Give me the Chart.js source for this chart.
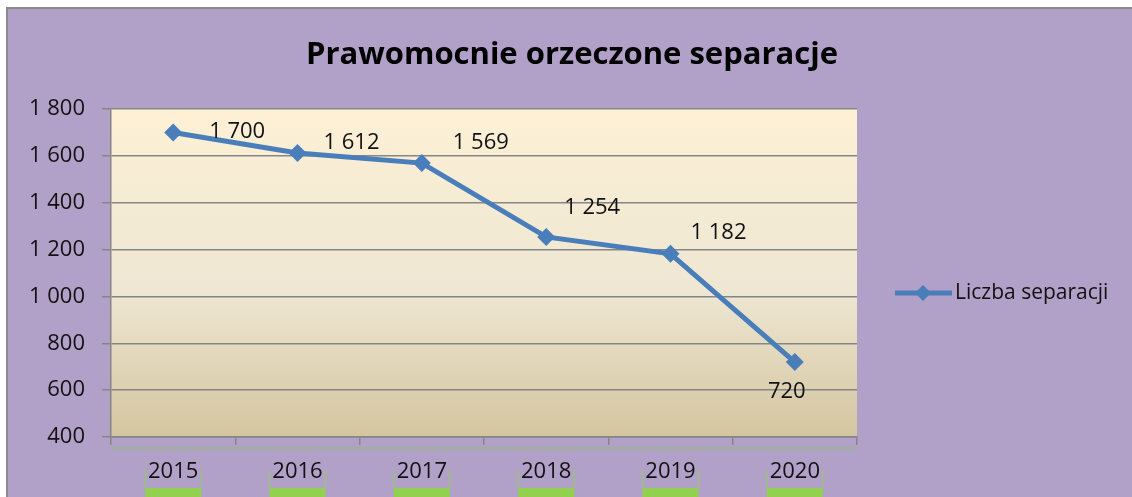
<!DOCTYPE html>
<html><head><meta charset="utf-8">
<script src="https://cdn.jsdelivr.net/npm/chart.js@4"></script>
<style>html,body{margin:0;padding:0;background:#fff;overflow:hidden}#wrap{width:1132px;height:497px;position:relative}</style>
</head><body><div id="wrap"><canvas id="c" width="1132" height="497"></canvas></div>
<script>
const years = ['2015', '2016', '2017', '2018', '2019', '2020'];
const separations = [1700, 1612, 1569, 1254, 1182, 720];
const seriesName = 'Liczba separacji';
const chartTitle = 'Prawomocnie orzeczone separacje';
const yMin = 400, yMax = 1800, yStep = 200;

const fmt = v => { const s = String(v); return s.length > 3 ? s.slice(0, -3) + '\u00a0' + s.slice(-3) : s; };
const FONT = "'Open Sans', 'DejaVu Sans', sans-serif";
const LINE = '#4A7EBB';
const GRID = '#868686';
// label offsets (px) relative to each point, like the hand-placed Excel labels
const labelOffsets = [[64, -1], [54, -10], [59, -20], [46, -29], [48, -21], [-8, 30]];

const decor = {
  id: 'decor',
  beforeDraw(chart) {
    const ctx = chart.ctx, W = chart.width, H = chart.height, a = chart.chartArea;
    ctx.save();
    ctx.fillStyle = '#ffffff'; ctx.fillRect(0, 0, W, H);
    ctx.fillStyle = '#B1A0C7'; ctx.fillRect(7, 8, W - 7, H - 8);
    ctx.fillStyle = '#8C8C8C'; ctx.fillRect(6, 7, W - 6, 2); ctx.fillRect(6, 7, 2, H - 7);
    const g = ctx.createLinearGradient(0, a.top, 0, a.bottom);
    g.addColorStop(0, '#FDF0D5'); g.addColorStop(0.55, '#EEE7D3'); g.addColorStop(1, '#D4C5A0');
    ctx.fillStyle = g; ctx.fillRect(a.left, a.top, a.right - a.left, a.bottom - a.top);
    // faint shadow under axis
    ctx.fillStyle = 'rgba(150,190,120,0.3)';
    ctx.fillRect(a.left, a.bottom + 9, a.right - a.left, 5);
    // green highlight under x labels
    const xs = chart.scales.x;
    xs.ticks.forEach((t, i) => {
      const x = xs.getPixelForTick(i);
      ctx.fillStyle = 'rgba(146,208,80,0.45)';
      ctx.fillRect(x - 29, 470, 2, 18);
      ctx.fillRect(x + 27, 470, 2, 18);
      ctx.fillStyle = '#92D050';
      ctx.fillRect(x - 28, 488, 56, 10);
    });
    // title
    ctx.font = 'bold 31px ' + FONT; ctx.fillStyle = '#000'; ctx.textAlign = 'center'; ctx.textBaseline = 'middle';
    ctx.fillText(chartTitle, 572, 55);
    ctx.restore();
  },
  afterDatasetsDraw(chart) {
    const ctx = chart.ctx, meta = chart.getDatasetMeta(0);
    ctx.save();
    ctx.font = '22px ' + FONT; ctx.fillStyle = '#111'; ctx.textAlign = 'center'; ctx.textBaseline = 'middle';
    meta.data.forEach((p, i) => {
      const o = labelOffsets[i] || [0, -15];
      ctx.fillText(fmt(chart.data.datasets[0].data[i]), p.x + o[0], p.y + o[1]);
    });
    ctx.restore();
  },
  afterDraw(chart) {
    const ctx = chart.ctx;
    ctx.save();
    const y = 293;
    ctx.strokeStyle = LINE; ctx.lineWidth = 5;
    ctx.beginPath(); ctx.moveTo(895, y); ctx.lineTo(952, y); ctx.stroke();
    ctx.fillStyle = LINE; ctx.beginPath();
    ctx.moveTo(923, y - 8); ctx.lineTo(931, y); ctx.lineTo(923, y + 8); ctx.lineTo(915, y); ctx.closePath(); ctx.fill();
    ctx.font = '21px ' + FONT; ctx.fillStyle = '#111'; ctx.textAlign = 'left'; ctx.textBaseline = 'middle';
    ctx.fillText(chart.data.datasets[0].label, 955, y);
    ctx.restore();
  }
};

new Chart(document.getElementById('c'), {
  type: 'line',
  data: {
    labels: years,
    datasets: [{
      label: seriesName,
      data: separations,
      borderColor: LINE,
      backgroundColor: LINE,
      borderWidth: 5,
      pointStyle: 'rectRot',
      pointRadius: 9,
      pointBorderWidth: 0,
      pointBackgroundColor: LINE,
      tension: 0,
      fill: false
    }]
  },
  options: {
    responsive: false,
    animation: false,
    devicePixelRatio: 1,
    layout: { padding: { left: 7, right: 275, top: 109, bottom: 0 } },
    plugins: {
      legend: { display: false },
      tooltip: { enabled: false },
      title: { display: false }
    },
    scales: {
      x: {
        offset: true,
        grid: { drawOnChartArea: false, drawTicks: true, tickLength: 8, color: GRID, lineWidth: 1.5, offset: true },
        border: { color: GRID, width: 1.5 },
        ticks: { font: { family: FONT, size: 22 }, color: '#111', padding: 14, maxRotation: 0 },
        afterFit(s) { s.height = 60; }
      },
      y: {
        min: yMin, max: yMax,
        grid: { color: GRID, lineWidth: 1.5, tickLength: 9, drawTicks: true },
        border: { color: GRID, width: 1.5 },
        ticks: { stepSize: yStep, font: { family: FONT, size: 22 }, color: '#111', padding: 17, callback: v => fmt(v) },
        afterFit(s) { s.width = 104; }
      }
    }
  },
  plugins: [decor]
});
</script></body></html>
